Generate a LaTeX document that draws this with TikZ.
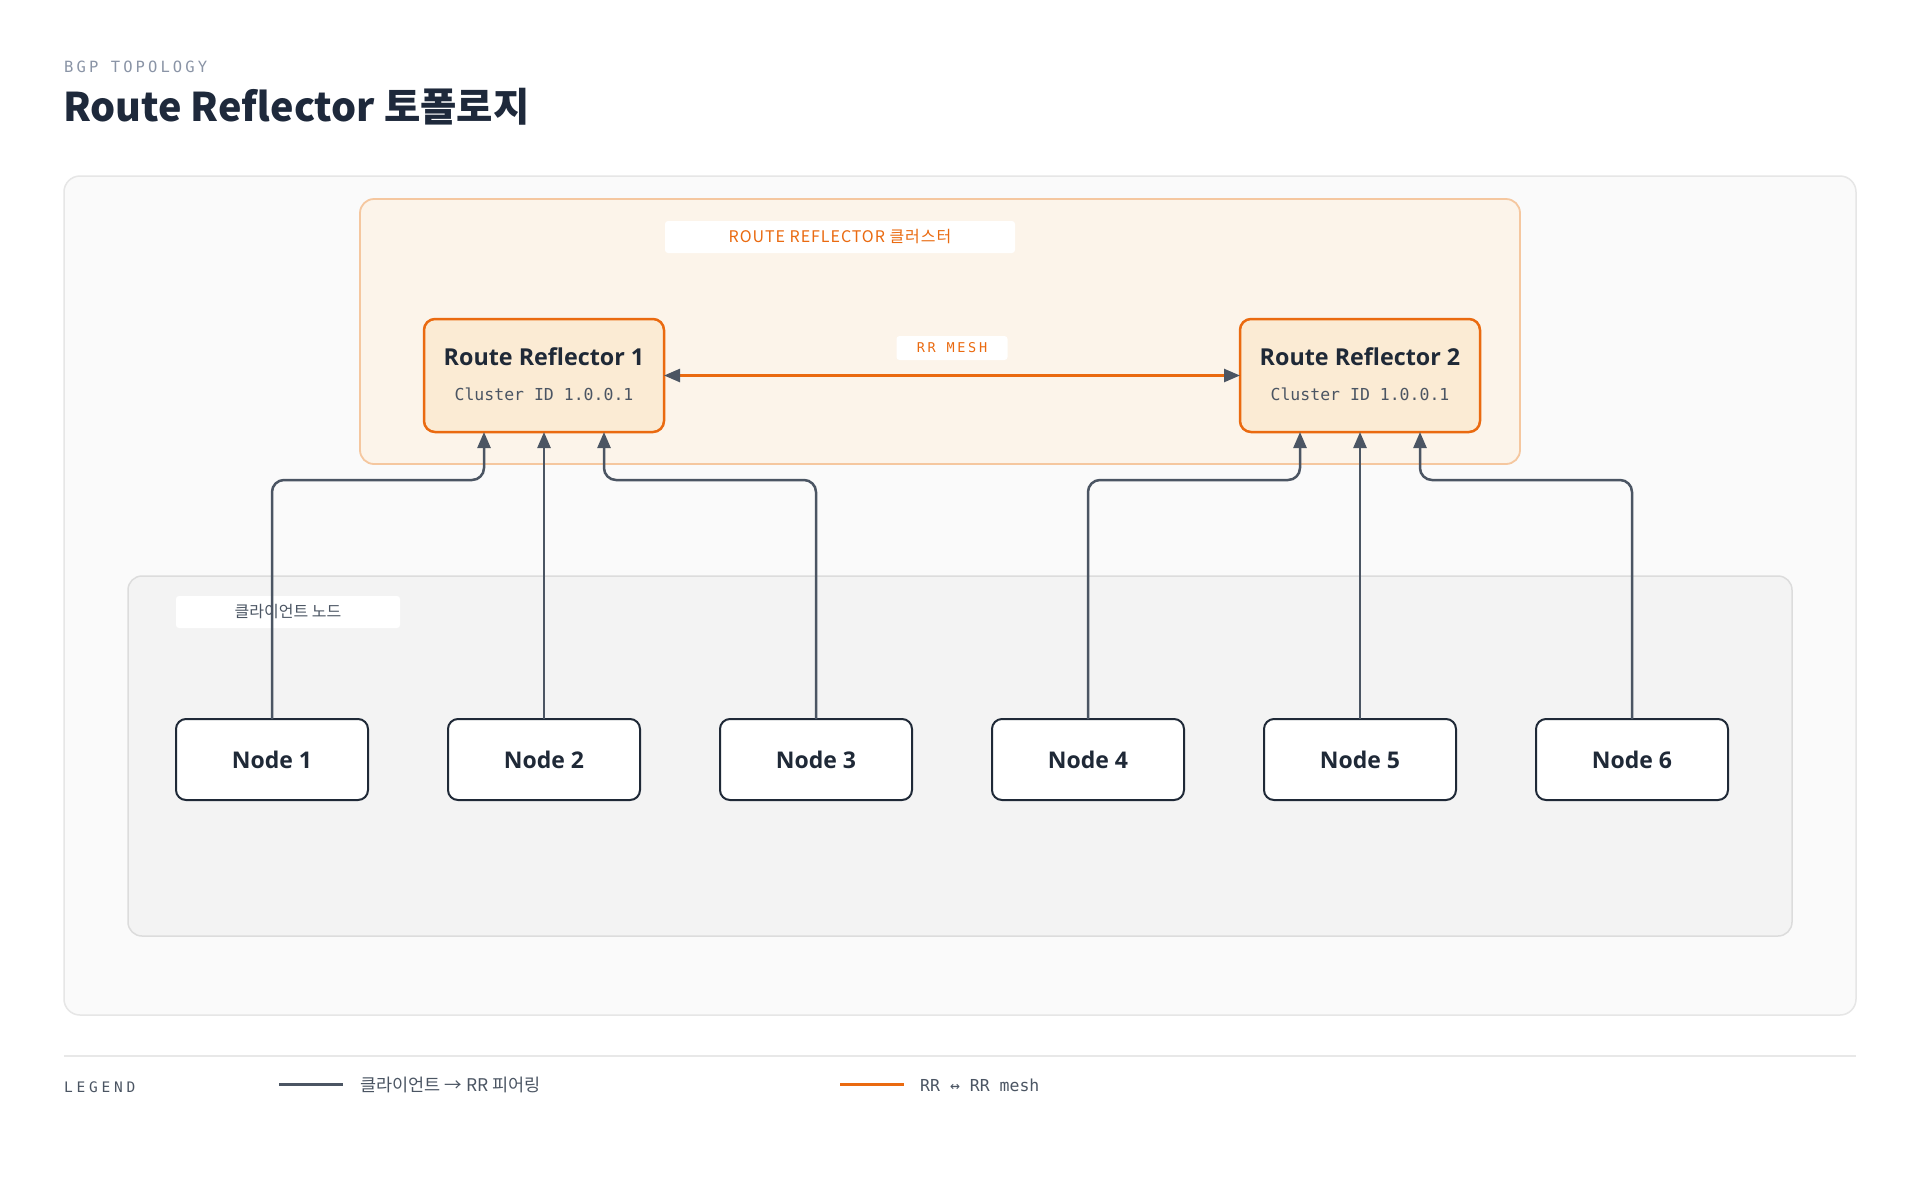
\documentclass[tikz,border=0pt]{standalone}
\usepackage{fontspec}
\setmainfont{Noto Sans}
\newfontfamily\opens{Open Sans}
\newfontfamily\cjk{Noto Sans CJK KR}
\newfontfamily\cjksp[LetterSpace=6]{Noto Sans CJK KR}
\newfontfamily\monof{DejaVu Sans Mono}
\newfontfamily\monosp[LetterSpace=20]{DejaVu Sans Mono}
\newfontfamily\monolg[LetterSpace=26]{DejaVu Sans Mono}
\usetikzlibrary{arrows.meta,calc}
\definecolor{cTitle}{HTML}{1E293B}
\definecolor{cKicker}{HTML}{8A94A6}
\definecolor{cOuterF}{HTML}{FAFAFA}
\definecolor{cOuterD}{HTML}{E6E6E6}
\definecolor{cClusF}{HTML}{FCF4EA}
\definecolor{cClusD}{HTML}{F5C79F}
\definecolor{cRRF}{HTML}{FBEBD4}
\definecolor{cOrange}{HTML}{EA6A10}
\definecolor{cClientF}{HTML}{F3F3F3}
\definecolor{cClientD}{HTML}{DCDCDC}
\definecolor{cNode}{HTML}{1F2937}
\definecolor{cConn}{HTML}{4B5563}
\definecolor{cSep}{HTML}{E8E8E8}
\tikzset{
  panel/.style={draw=cOuterD, fill=cOuterF, line width=1.5pt, rounded corners=16pt, anchor=north west, inner sep=0pt, outer sep=0pt},
  cluster/.style={draw=cClusD, fill=cClusF, line width=1.8pt, rounded corners=14pt, anchor=north west, inner sep=0pt, outer sep=0pt},
  clientgrp/.style={draw=cClientD, fill=cClientF, line width=1.5pt, rounded corners=14pt, anchor=north west, inner sep=0pt, outer sep=0pt},
  tagbox/.style={fill=white, rounded corners=3pt, inner sep=0pt, outer sep=0pt},
  rrbox/.style={draw=cOrange, fill=cRRF, line width=2.5pt, rounded corners=11pt, minimum width=240pt, minimum height=113pt, inner sep=0pt, outer sep=0pt},
  rrtitle/.style={anchor=base, text=cNode, font=\opens\fontsize{23.3}{27}\selectfont\bfseries, inner sep=0pt},
  rrsub/.style={anchor=base, text=cConn, font=\monof\fontsize{16.5}{20}\selectfont, inner sep=0pt},
  client/.style={draw=cNode, fill=white, line width=2pt, rounded corners=10pt, minimum width=192pt, minimum height=81pt, inner sep=0pt, outer sep=0pt, text=cNode, font=\opens\fontsize{23}{27}\selectfont\bfseries},
  conn/.style={draw=cConn, line width=2.5pt, rounded corners=12pt, -{Triangle[length=16pt,width=13pt]}},
  mesh/.style={draw=cOrange, line width=2.5pt, {Triangle[length=16pt,width=13pt,color=cConn]}-{Triangle[length=16pt,width=13pt,color=cConn]}},
}
\begin{document}
\begin{tikzpicture}[x=1pt,y=-1pt]
\fill[white] (0,0) rectangle (1920,1200);
\useasboundingbox (0,0) rectangle (1920,1200);

% header
\node[anchor=base west, inner sep=0pt, text=cKicker, font=\monosp\fontsize{15.5}{18}\selectfont] (kicker) at (64,72) {BGP TOPOLOGY};
\node[anchor=base west, inner sep=0pt, text=cTitle, font=\cjk\fontsize{39.5}{46}\selectfont\bfseries] (title) at (63,121) {Route Reflector 토폴로지};

% panels
\node[panel, minimum width=1792pt, minimum height=839pt] (outer) at (64,176) {};
\node[cluster, minimum width=1160pt, minimum height=265pt] (clus) at (360,199) {};
\node[tagbox, minimum width=350pt, minimum height=32pt, text=cOrange, font=\cjksp\fontsize{16}{19}\selectfont] (cluslbl) at (840,237) {ROUTE REFLECTOR 클러스터};
\node[clientgrp, minimum width=1664pt, minimum height=360pt] (cgrp) at (128,576) {};
\node[tagbox, minimum width=224pt, minimum height=32pt, text=cConn, font=\cjk\fontsize{16}{19}\selectfont] (cgrplbl) at (288,612) {클라이언트 노드};

% route reflectors
\node[rrbox] (rr1) at (544,375.5) {};
\node[rrtitle] (rr1t) at (544,365) {Route Reflector 1};
\node[rrsub] (rr1s) at (544,400) {Cluster ID 1.0.0.1};
\node[rrbox] (rr2) at (1360,375.5) {};
\node[rrtitle] (rr2t) at (1360,365) {Route Reflector 2};
\node[rrsub] (rr2s) at (1360,400) {Cluster ID 1.0.0.1};

% mesh
\draw[mesh] (rr1.east) -- (rr2.west);
\node[tagbox, minimum width=111pt, minimum height=24pt, text=cOrange, font=\monosp\fontsize{13.5}{16}\selectfont] (meshlbl) at (952,348) {RR MESH};

% clients
\foreach \i in {1,...,6}{
  \node[client] (n\i) at ({272*\i},759.5) {Node \i};
}

% connectors
\coordinate (bus) at (0,480);
\coordinate (r1a) at ($(rr1.south)+(-60,0)$);
\coordinate (r1b) at (rr1.south);
\coordinate (r1c) at ($(rr1.south)+(60,0)$);
\coordinate (r2a) at ($(rr2.south)+(-60,0)$);
\coordinate (r2b) at (rr2.south);
\coordinate (r2c) at ($(rr2.south)+(60,0)$);
\draw[conn] (n1.north) |- (r1a |- bus) -- (r1a);
\draw[conn] (n2.north) -- (r1b);
\draw[conn] (n3.north) |- (r1c |- bus) -- (r1c);
\draw[conn] (n4.north) |- (r2a |- bus) -- (r2a);
\draw[conn] (n5.north) -- (r2b);
\draw[conn] (n6.north) |- (r2c |- bus) -- (r2c);

% legend
\draw[cSep, line width=2pt] (64,1056) -- (1856,1056);
\node[anchor=base west, inner sep=0pt, text=cConn, font=\monolg\fontsize{14.5}{17}\selectfont] (legend) at (64,1092) {LEGEND};
\coordinate (lg1a) at (279,1084);
\coordinate (lg1b) at (343,1084);
\draw[cConn, line width=3pt] (lg1a) -- (lg1b);
\node[anchor=base west, inner sep=0pt, text=cConn, font=\cjk\fontsize{17.5}{20}\selectfont] (lg1t) at (360,1091) {클라이언트 → RR 피어링};
\coordinate (lg2a) at (840,1084);
\coordinate (lg2b) at (904,1084);
\draw[cOrange, line width=3pt] (lg2a) -- (lg2b);
\node[anchor=base west, inner sep=0pt, text=cConn, font=\monof\fontsize{16.5}{19}\selectfont] (lg2t) at (920,1091) {RR ↔ RR mesh};
\end{tikzpicture}
\end{document}
